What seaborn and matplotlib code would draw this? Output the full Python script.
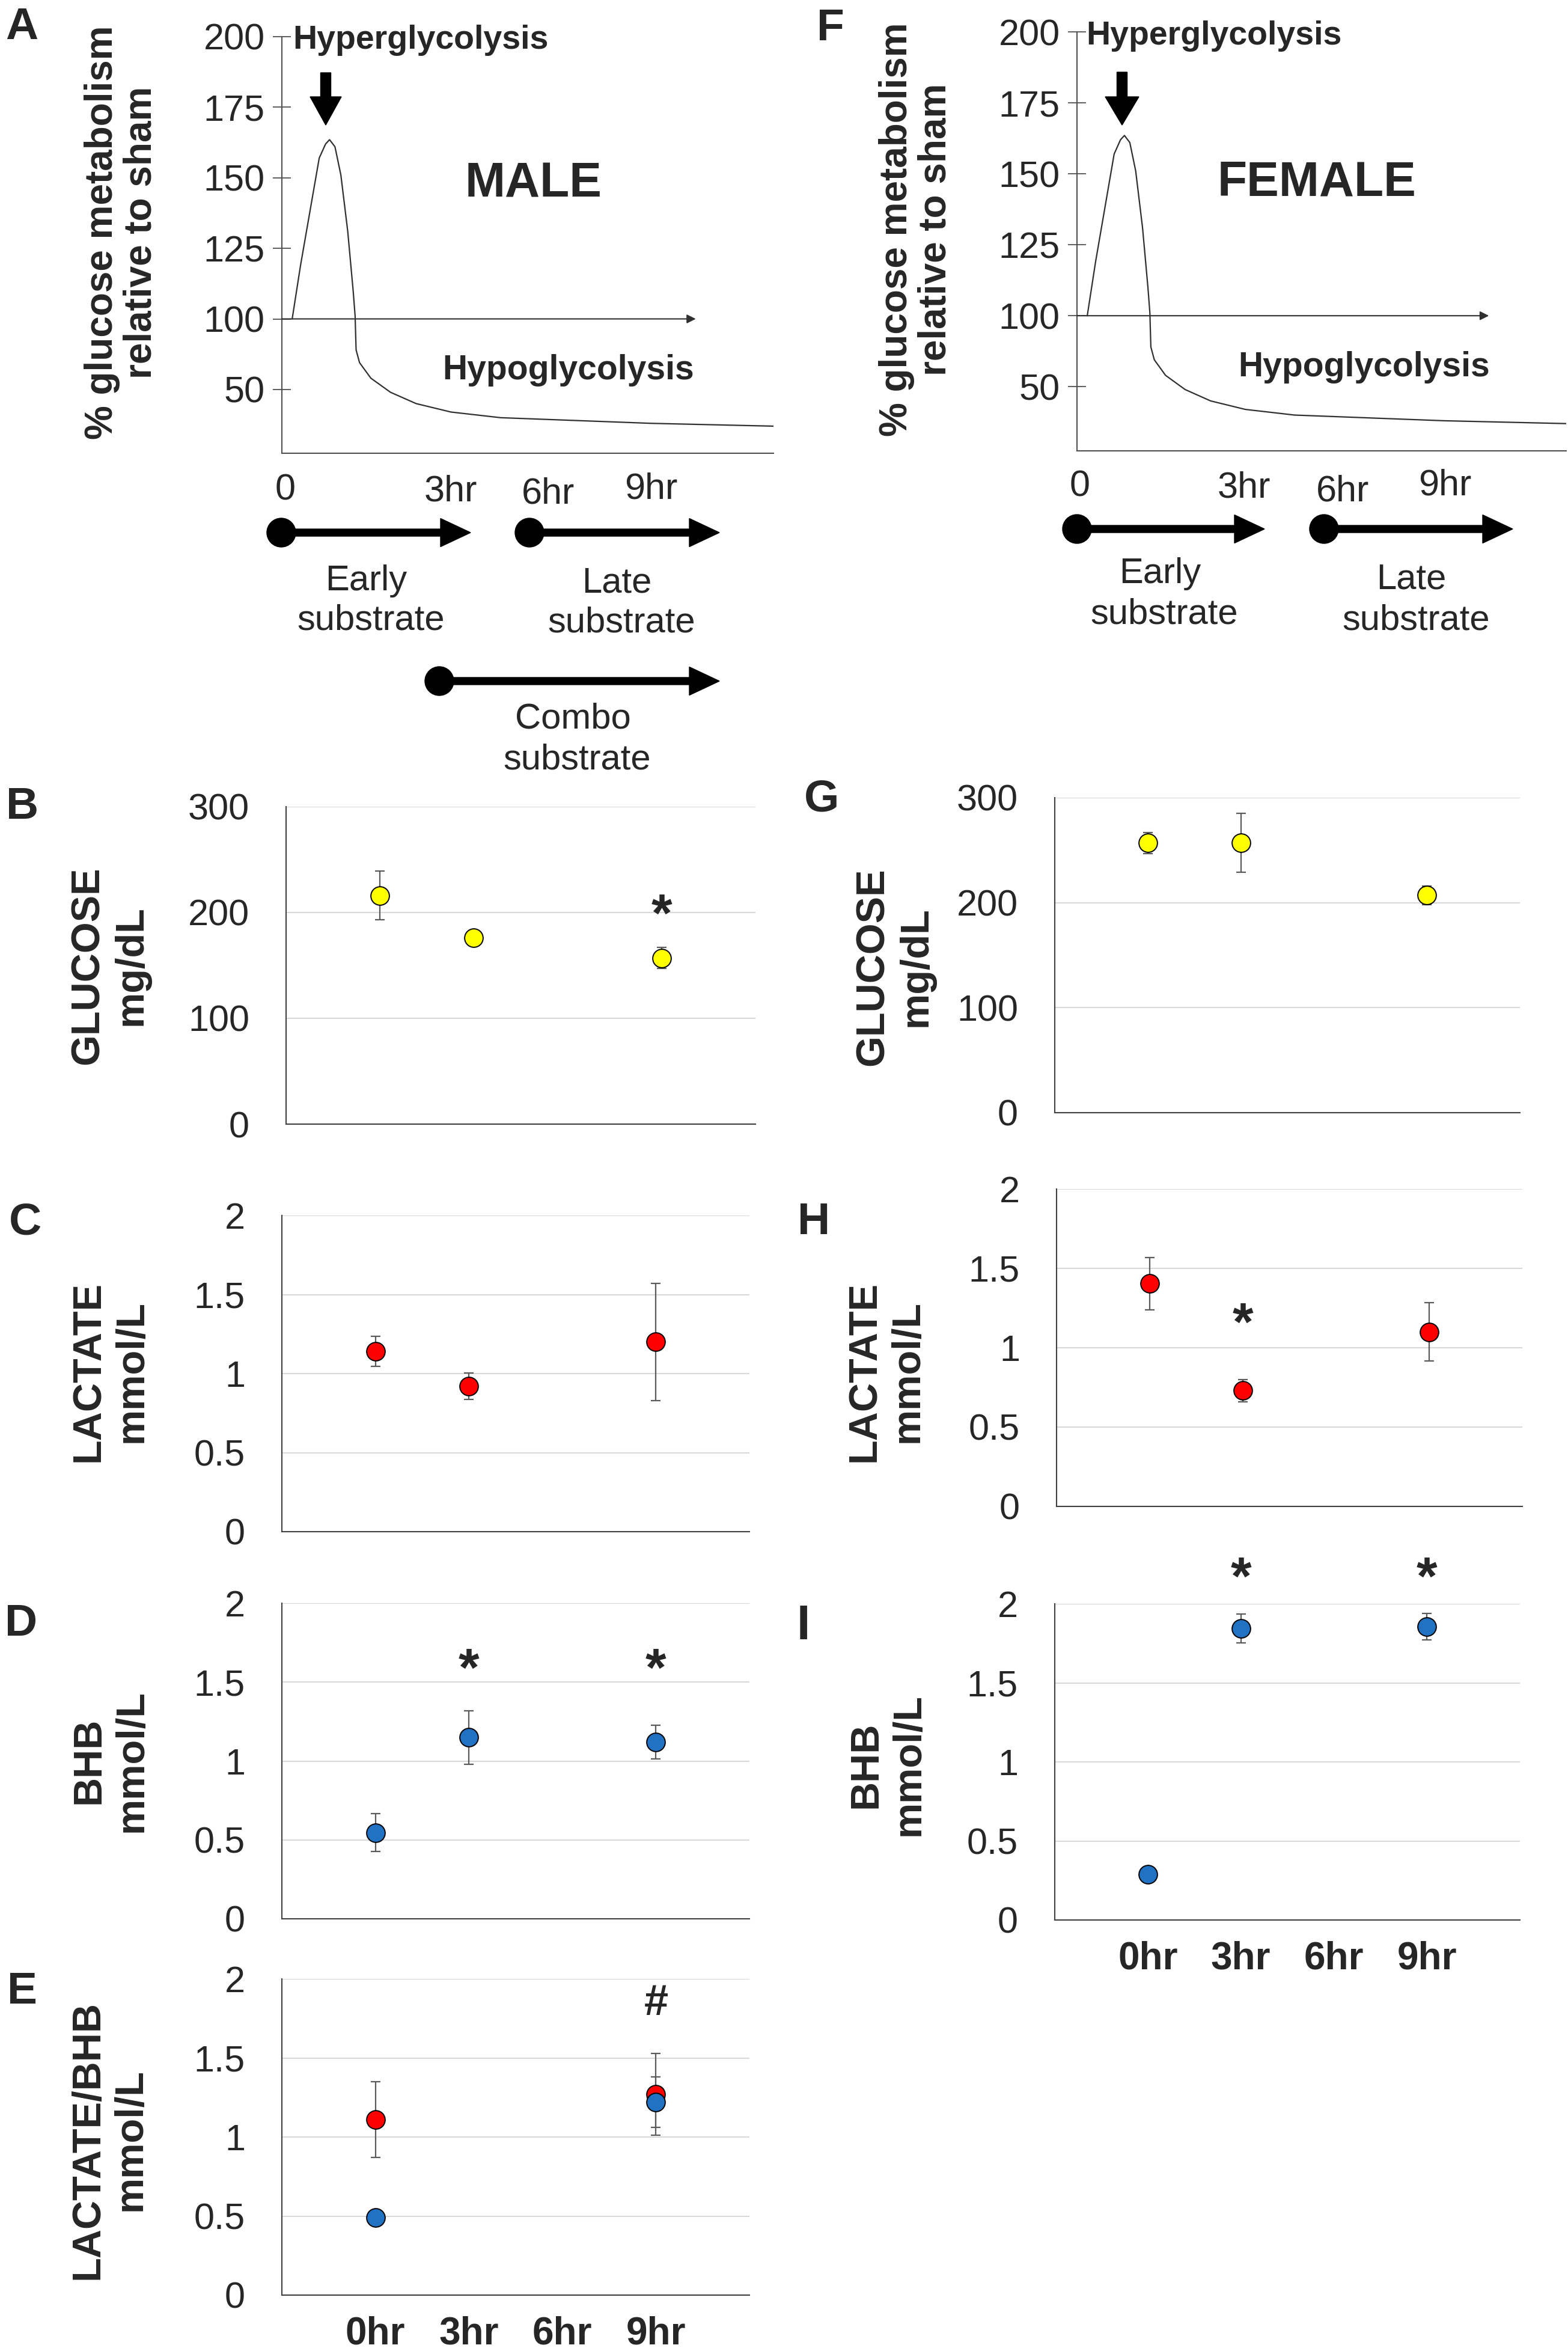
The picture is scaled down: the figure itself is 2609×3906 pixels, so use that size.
import matplotlib
matplotlib.use("Agg")
import matplotlib.pyplot as plt
import seaborn as sns
from matplotlib.patches import FancyArrow, Circle

# ---------------- data ----------------
hour_labels = ['0hr', '3hr', '6hr', '9hr']

# schematic curve (panels A and F), y in tick-position units
schematic_time = [0.21, 0.38, 0.59, 0.76, 0.89, 0.97, 1.08, 1.20, 1.34, 1.45, 1.49,
                  1.51, 1.58, 1.81, 2.21, 2.73, 3.44, 4.45, 5.98, 7.51, 10.0]
schematic_pct = [100, 119, 140, 157, 162, 163.5, 161, 151, 131, 110, 101,
                 89, 84.5, 79, 74, 70, 67, 65, 64, 63, 62]
schematic_ticks = [75, 100, 125, 150, 175, 200]
schematic_ticklabels = ['50', '100', '125', '150', '175', '200']
schematic_time_labels = ['0', '3hr', '6hr', '9hr']

# male
male_glucose_hr = ['0hr', '3hr', '9hr']
male_glucose = [216, 176, 157]
male_glucose_sem = [23, 4, 10]
male_lactate_hr = ['0hr', '3hr', '9hr']
male_lactate = [1.14, 0.92, 1.20]
male_lactate_sem = [0.095, 0.085, 0.37]
male_bhb_hr = ['0hr', '3hr', '9hr']
male_bhb = [0.545, 1.15, 1.12]
male_bhb_sem = [0.12, 0.17, 0.105]
male_combo_hr = ['0hr', '9hr']
male_combo_lactate = [1.11, 1.27]
male_combo_lactate_sem = [0.24, 0.26]
male_combo_bhb = [0.49, 1.22]
male_combo_bhb_sem = [0.03, 0.16]

# female
female_glucose_hr = ['0hr', '3hr', '9hr']
female_glucose = [257, 257, 207]
female_glucose_sem = [10, 28, 9]
female_lactate_hr = ['0hr', '3hr', '9hr']
female_lactate = [1.405, 0.73, 1.10]
female_lactate_sem = [0.165, 0.07, 0.185]
female_bhb_hr = ['0hr', '3hr', '9hr']
female_bhb = [0.289, 1.844, 1.855]
female_bhb_sem = [0.02, 0.09, 0.085]

# significance marks: (hour, symbol, y position of mark)
male_glucose_sig = [('9hr', '*', 211)]
male_bhb_sig = [('3hr', '*', 1.67), ('9hr', '*', 1.67)]
male_combo_sig = [('9hr', '#', 1.87)]
female_lactate_sig = [('3hr', '*', 1.24)]
female_bhb_sig = [('3hr', '*', 2.25), ('9hr', '*', 2.25)]

YELLOW = '#FFFF00'
RED = '#FF0000'
BLUE = '#2272C3'

# ---------------- figure ----------------
sns.set_style('white')
plt.rcParams['font.family'] = ['Liberation Sans', 'DejaVu Sans']

W, H = 2609, 3906
fig = plt.figure(figsize=(W / 100, H / 100), dpi=100)


def rect(l, t, r, b):
    return [l / W, 1 - b / H, (r - l) / W, (b - t) / H]


ov = fig.add_axes([0, 0, 1, 1])
ov.set_xlim(0, W)
ov.set_ylim(H, 0)
ov.axis('off')
ov.set_facecolor('none')


def otext(s, x, y, ha='center', fs=42, fw='normal', va='baseline', **kw):
    ov.text(x, y, s, ha=ha, va=va, fontsize=fs, fontweight=fw, **kw)


def big_arrow(x0, x1, y):
    ov.add_patch(Circle((x0, y), 24, color='black', zorder=5))
    ov.add_patch(FancyArrow(x0, y, x1 - x0, 0, width=12, head_width=47, head_length=50,
                            length_includes_head=True, color='black', zorder=5))


def down_arrow(x, y0, y1, hw):
    ov.add_patch(FancyArrow(x, y0, 0, y1 - y0, width=17, head_width=hw, head_length=47,
                            length_includes_head=True, color='black', zorder=5))


def schematic(r):
    ax = fig.add_axes(rect(*r))
    ax.set_facecolor('none')
    sns.lineplot(x=schematic_time, y=schematic_pct, ax=ax, color='#303030', linewidth=1.6,
                 estimator=None, sort=False)
    ax.set_xlim(0, 10)
    ax.set_ylim(52.4, 200)
    ax.set_xticks([])
    ax.set_yticks(schematic_ticks, schematic_ticklabels)
    ax.tick_params(axis='y', direction='inout', length=21, width=1.3, color='#505050',
                   labelsize=44, pad=10, left=True)
    for s in ['top', 'right']:
        ax.spines[s].set_visible(False)
    for s in ['left', 'bottom']:
        ax.spines[s].set_color('#505050')
        ax.spines[s].set_linewidth(1.5)
    ax.annotate('', xy=(8.42, 100), xytext=(0, 100),
                arrowprops=dict(arrowstyle='-|>', color='#303030', lw=1.5,
                                mutation_scale=22, shrinkA=0, shrinkB=0))
    ax.set_xlabel('')
    ax.set_ylabel('')
    return ax


def data_panel(r, ylim, yticks, yticklabels, series, sigs, xlabels=False, xpad=29):
    ax = fig.add_axes(rect(*r))
    ax.set_facecolor('none')
    for hrs, vals, errs, color in series:
        xs = [hour_labels.index(h) for h in hrs]
        ax.errorbar(xs, vals, yerr=errs, fmt='none', ecolor='#5a5a5a', elinewidth=1.6,
                    capsize=5.5, capthick=1.6, zorder=2)
    for hrs, vals, errs, color in series:
        xs = [hour_labels.index(h) for h in hrs]
        sns.scatterplot(x=xs, y=vals, ax=ax, color=color, s=490, edgecolor='black',
                        linewidth=1.4, zorder=3, legend=False)
    for h, sym, y in sigs:
        x = hour_labels.index(h)
        if sym == '*':
            fs, off = 64, 0.563 * 64
        else:
            fs, off = 52, 0.36 * 52
        ax.annotate(sym, xy=(x, y), xycoords='data', xytext=(0, -off), textcoords='offset points',
                    ha='center', va='baseline', fontsize=fs, fontweight='bold', annotation_clip=False)
    ax.set_xlim(-1, 4)
    ax.set_ylim(*ylim)
    ax.set_yticks(yticks, yticklabels)
    ax.yaxis.grid(True, color='#d9d9d9', lw=1.5)
    ax.xaxis.grid(False)
    ax.set_axisbelow(True)
    ax.tick_params(axis='y', length=0, pad=44, labelsize=44)
    if xlabels:
        ax.set_xticks(range(len(hour_labels)), hour_labels)
        ax.tick_params(axis='x', length=0, pad=xpad, labelsize=46)
        for t in ax.get_xticklabels():
            t.set_fontweight('bold')
    else:
        ax.set_xticks([])
    for s in ['top', 'right']:
        ax.spines[s].set_visible(False)
    for s in ['left', 'bottom']:
        ax.spines[s].set_color('#404040')
        ax.spines[s].set_linewidth(1.5)
    ax.set_xlabel('')
    ax.set_ylabel('')
    return ax


def ylab(s, x, y, fs=48):
    otext(s, x, y, ha='center', va='center', fs=fs, fw='bold', rotation=90,
          multialignment='center', linespacing=1.2)


# ---------- Panel A ----------
schematic((469, 61, 1287, 754))
otext('A', 36, 65, fs=54, fw='bold')
ov.text(202, 387, '% glucose metabolism\nrelative to sham', ha='center', va='center',
        rotation=90, fontsize=46, fontweight='bold', multialignment='center', linespacing=1.1)
otext('Hyperglycolysis', 487, 81, ha='left', fs=40, fw='bold')
down_arrow(542, 121, 208, 52)
otext('MALE', 888, 327, fs=58, fw='bold')
otext('Hypoglycolysis', 946, 631, fs=41, fw='bold')
for lab, x, y in zip(schematic_time_labels, [475, 750, 912, 1083], [831, 833, 838, 829]):
    otext(lab, x, y, fs=44)
big_arrow(468, 783, 886)
big_arrow(881, 1197, 886)
big_arrow(731, 1197, 1133)
otext('Early', 609, 982, fs=43)
otext('substrate', 617, 1048, fs=43)
otext('Late', 1026, 985, fs=43)
otext('substrate', 1034, 1052, fs=43)
otext('Combo', 953, 1212, fs=43)
otext('substrate', 960, 1279, fs=43)

# ---------- Panel F ----------
schematic((1792, 53, 2606, 750))
otext('F', 1382, 67, fs=54, fw='bold')
ov.text(1524, 382, '% glucose metabolism\nrelative to sham', ha='center', va='center',
        rotation=90, fontsize=46, fontweight='bold', multialignment='center', linespacing=1.1)
otext('Hyperglycolysis', 1807, 74, ha='left', fs=40, fw='bold')
down_arrow(1867, 120, 208, 56)
otext('FEMALE', 2191, 325, fs=58, fw='bold')
otext('Hypoglycolysis', 2270, 626, fs=41, fw='bold')
for lab, x, y in zip(schematic_time_labels, [1797, 2070, 2234, 2404], [825, 827, 834, 823]):
    otext(lab, x, y, fs=44)
big_arrow(1792, 2104, 880)
big_arrow(2203, 2517, 880)
otext('Early', 1930, 970, fs=43)
otext('substrate', 1937, 1038, fs=43)
otext('Late', 2348, 980, fs=43)
otext('substrate', 2356, 1047, fs=43)

# ---------- Male data panels ----------
glu_ticks = [0, 100, 200, 300]
glu_labels = ['0', '100', '200', '300']
mm_ticks = [0, 0.5, 1, 1.5, 2]
mm_labels = ['0', '0.5', '1', '1.5', '2']

data_panel((476, 1342, 1257, 1870), (0, 300), glu_ticks, glu_labels,
           [(male_glucose_hr, male_glucose, male_glucose_sem, YELLOW)], male_glucose_sig)
otext('B', 37, 1362, fs=54, fw='bold')
ylab('GLUCOSE\nmg/dL', 183, 1606)

data_panel((469, 2022, 1247, 2548), (0, 2), mm_ticks, mm_labels,
           [(male_lactate_hr, male_lactate, male_lactate_sem, RED)], [])
otext('C', 42, 2054, fs=54, fw='bold')
ylab('LACTATE\nmmol/L', 184, 2281)

data_panel((469, 2667, 1247, 3192), (0, 2), mm_ticks, mm_labels,
           [(male_bhb_hr, male_bhb, male_bhb_sem, BLUE)], male_bhb_sig)
otext('D', 35, 2721, fs=54, fw='bold')
ylab('BHB\nmmol/L', 184, 2929)

data_panel((469, 3292, 1247, 3818), (0, 2), mm_ticks, mm_labels,
           [(male_combo_hr, male_combo_lactate, male_combo_lactate_sem, RED),
            (male_combo_hr, male_combo_bhb, male_combo_bhb_sem, BLUE)],
           male_combo_sig, xlabels=True, xpad=25)
otext('E', 37, 3333, fs=54, fw='bold')
ylab('LACTATE/BHB\nmmol/L', 182, 3560)

# ---------- Female data panels ----------
data_panel((1755, 1327, 2529, 1851), (0, 300), glu_ticks, glu_labels,
           [(female_glucose_hr, female_glucose, female_glucose_sem, YELLOW)], [])
otext('G', 1367, 1350, fs=54, fw='bold')
ylab('GLUCOSE\nmg/dL', 1489, 1608)

data_panel((1758, 1978, 2533, 2506), (0, 2), mm_ticks, mm_labels,
           [(female_lactate_hr, female_lactate, female_lactate_sem, RED)], female_lactate_sig)
otext('H', 1354, 2053, fs=54, fw='bold')
ylab('LACTATE\nmmol/L', 1475, 2281)

data_panel((1755, 2668, 2529, 3194), (0, 2), mm_ticks, mm_labels,
           [(female_bhb_hr, female_bhb, female_bhb_sem, BLUE)], female_bhb_sig,
           xlabels=True, xpad=25)
otext('I', 1337, 2727, fs=58, fw='bold')
ylab('BHB\nmmol/L', 1477, 2936)

fig.savefig('out.png', dpi=100, facecolor='white')
